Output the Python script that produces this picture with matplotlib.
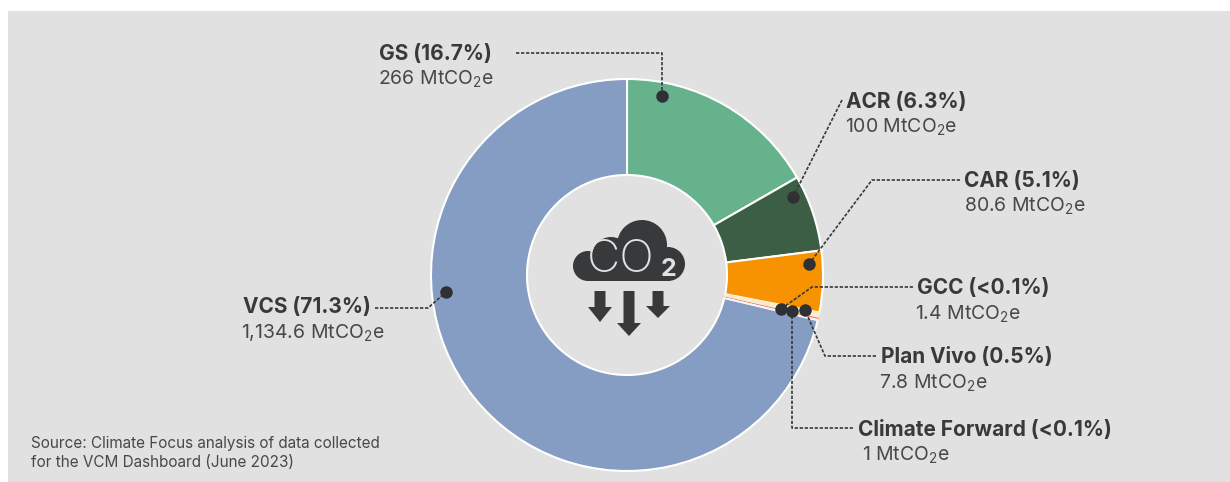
import matplotlib
matplotlib.use('Agg')
import matplotlib.pyplot as plt
from matplotlib.patches import Circle, Rectangle

plt.rcParams['font.family'] = ['Inter', 'DejaVu Sans']
plt.rcParams['mathtext.fontset'] = 'custom'
plt.rcParams['mathtext.rm'] = 'Inter'
plt.rcParams['mathtext.default'] = 'regular'

# clockwise from the top
names = ['GS (16.7%)', 'ACR (6.3%)', 'CAR (5.1%)', 'Plan Vivo (0.5%)', 'GCC (<0.1%)', 'Climate Forward (<0.1%)', 'VCS (71.3%)']
amounts = ['266', '100', '80.6', '7.8', '1.4', '1', '1,134.6']
values = [266, 100, 80.6, 7.8, 1.4, 1, 1134.6]
colors = ['#66b28c', '#3c5e45', '#f79200', '#fdeccd', '#e8796f', '#f8f4f2', '#859dc3']

# label x, name baseline, amount x, amount baseline
label_pos = [(379, 60, 378, 85), (846, 108, 845, 133), (964, 187, 964, 212), (881, 363, 879, 389),
             (917, 294, 915, 320), (858, 436, 862, 461), (243, 313, 241, 339)]
# leader lines, last point is the dot
leaders = [[(516, 53), (662, 53), (662, 96)],
           [(842, 100), (793, 197)],
           [(960, 180), (872, 180), (809, 264)],
           [(876, 356), (825, 356), (805, 310)],
           [(913, 287), (812, 287), (781, 309)],
           [(853, 428), (792, 428), (792, 311)],
           [(375, 308), (428, 308), (446, 292)]]

dark = '#38393b'

fig = plt.figure(figsize=(12.3, 4.82), dpi=100, facecolor='white')
ax = fig.add_axes([0, 0, 1, 1])

wedges, _ = ax.pie(values, colors=colors, startangle=-90, counterclock=True, center=(627, 275), radius=196,
                   wedgeprops=dict(width=96, edgecolor='white', linewidth=1.5))
for w, v in zip(wedges, values):
    if v < 10:
        w.set_linewidth(0.8)
        w.set_edgecolor(w.get_facecolor())
        w.set_zorder(2)

# pixel coordinates, y going down
ax.set_xlim(0, 1230)
ax.set_ylim(482, 0)
ax.set_aspect('auto')
ax.axis('off')
ax.add_patch(Rectangle((8, 11), 1222, 471, facecolor='#e1e1e1', edgecolor='none', zorder=-5))

for pts in leaders:
    xs = [p[0] for p in pts]
    ys = [p[1] for p in pts]
    ax.plot(xs, ys, color=dark, lw=1.2, ls=(0, (2, 1)), zorder=4)
    ax.plot(xs[-1], ys[-1], 'o', color='#2f3033', ms=9, mew=0, zorder=5)

for name, amount, (x1, y1, x2, y2) in zip(names, amounts, label_pos):
    ax.text(x1, y1, name, fontsize=15, fontweight='bold', color=dark, va='baseline', ha='left')
    ax.text(x2, y2, amount + ' MtCO$_{2}$e', fontsize=14, color='#47484a', va='baseline', ha='left')

ax.text(31, 448, 'Source: Climate Focus analysis of data collected', fontsize=11, color='#47484a', va='baseline')
ax.text(31, 467, 'for the VCM Dashboard (June 2023)', fontsize=11, color='#47484a', va='baseline')

# CO2 cloud icon
for cx, cy, r in [(588, 266, 15), (611, 256, 19), (642, 245, 25), (668, 264, 17)]:
    ax.add_patch(Circle((cx, cy), r, color=dark, lw=0, zorder=3))
ax.add_patch(Rectangle((588, 258), 82, 23, color=dark, lw=0, zorder=3))
ax.text(621, 272, 'CO', fontsize=33, fontweight='light', color='#e1e1e1', ha='center', va='baseline', zorder=4)
ax.text(669, 276, '2', fontsize=18, fontweight='bold', color='#e1e1e1', ha='center', va='baseline', zorder=4)

def arrow(cx, y0, y1, y2):
    ax.fill([cx - 5.5, cx + 5.5, cx + 5.5, cx + 12, cx, cx - 12, cx - 5.5],
            [y0, y0, y1, y1, y2, y1, y1], color=dark, lw=0, zorder=3)

arrow(600, 291, 307, 322)
arrow(629, 291, 323, 336)
arrow(658, 291, 306, 318)

fig.savefig('out.png', dpi=100)
